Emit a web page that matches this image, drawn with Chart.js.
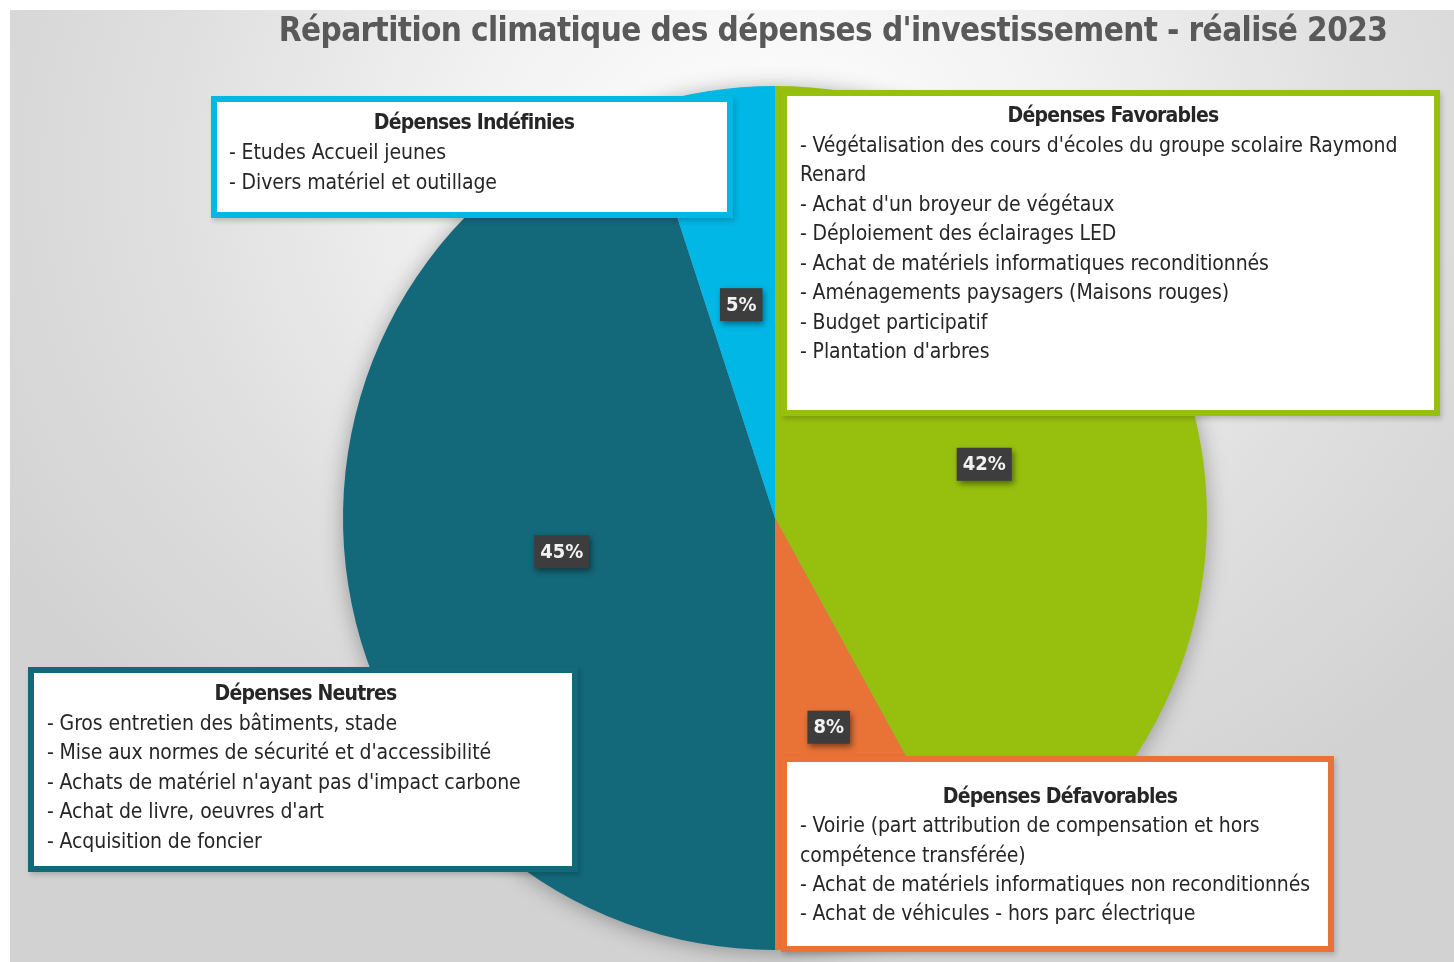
<!DOCTYPE html>
<html lang="fr">
<head>
<meta charset="utf-8">
<title>Répartition climatique des dépenses d'investissement - réalisé 2023</title>
<script src="https://cdn.jsdelivr.net/npm/chart.js"></script>
<style>
  html, body { margin: 0; padding: 0; background: #fff; }
  #page { position: relative; width: 1454px; height: 962px; overflow: hidden; }
  #bg {
    position: absolute; left: 10px; top: 10px; width: 1444px; height: 952px;
    background: radial-gradient(ellipse 900px 760px at 760px 160px, #ffffff 0%, #f1f1f1 35%, #dedede 70%, #d2d2d2 100%);
  }
  #chart { position: absolute; left: 0; top: 0; width: 1454px; height: 962px; }
  h1 {
    position: absolute; left: 240px; width: 1186px; top: 9px; margin: 0;
    text-align: center; font: bold 33px 'DejaVu Sans Condensed', sans-serif;
    letter-spacing: -0.6px; white-space: nowrap;
    color: #595959; line-height: 42px;
  }
  .box {
    position: absolute; box-sizing: border-box; background: #fff; border: 6px solid;
    box-shadow: 2px 3px 5px rgba(0,0,0,0.18);
    font: 21px 'DejaVu Sans Condensed', sans-serif; color: #262626;
    letter-spacing: -0.1px; white-space: nowrap;
  }
  .box .t { font-weight: bold; text-align: center; letter-spacing: -0.8px; }
</style>
</head>
<body>
<div id="page">
  <div id="bg"></div>
  <canvas id="chart" width="1454" height="962"></canvas>
  <h1 id="title"></h1>
</div>
<script>
// données
const categories = ['Dépenses Favorables', 'Dépenses Défavorables', 'Dépenses Neutres', 'Dépenses Indéfinies'];
const shares = [42, 8, 45, 5];
const shareLabels = ['42%', '8%', '45%', '5%'];
const chartTitle = "Répartition climatique des dépenses d'investissement - réalisé 2023";

const favorablesItems = [
  "- Végétalisation des cours d'écoles du groupe scolaire Raymond",
  "Renard",
  "- Achat d'un broyeur de végétaux",
  "- Déploiement des éclairages LED",
  "- Achat de matériels informatiques reconditionnés",
  "- Aménagements paysagers (Maisons rouges)",
  "- Budget participatif",
  "- Plantation d'arbres"
];
const defavorablesItems = [
  "- Voirie (part attribution de compensation et hors",
  "compétence transférée)",
  "- Achat de matériels informatiques non reconditionnés",
  "- Achat de véhicules - hors parc électrique"
];
const neutresItems = [
  "- Gros entretien des bâtiments, stade",
  "- Mise aux normes de sécurité et d'accessibilité",
  "- Achats de matériel n'ayant pas d'impact carbone",
  "- Achat de livre, oeuvres d'art",
  "- Acquisition de foncier"
];
const indefiniesItems = [
  "- Etudes Accueil jeunes",
  "- Divers matériel et outillage"
];

// couleurs
const sliceColors = ['#97c00e', '#e97336', '#13687a', '#00b7e6'];

// encadrés (position, taille)
const boxes = [
  { idx: 0, items: favorablesItems, left: 781, top: 90, width: 659, height: 326, padTop: 5, padLeft: 13, lineH: 29.5 },
  { idx: 1, items: defavorablesItems, left: 781, top: 756, width: 553, height: 196, padTop: 20, padLeft: 13, lineH: 29.3 },
  { idx: 2, items: neutresItems, left: 28, top: 667, width: 550, height: 205, padTop: 6, padLeft: 13, lineH: 29.6 },
  { idx: 3, items: indefiniesItems, left: 211, top: 96, width: 522, height: 122, padTop: 5, padLeft: 12, lineH: 30 }
];

document.getElementById('title').textContent = chartTitle;

const page = document.getElementById('page');
boxes.forEach(b => {
  const div = document.createElement('div');
  div.className = 'box';
  div.style.left = b.left + 'px';
  div.style.top = b.top + 'px';
  div.style.width = b.width + 'px';
  div.style.height = b.height + 'px';
  div.style.borderColor = sliceColors[b.idx];
  div.style.padding = b.padTop + 'px 8px 0 ' + b.padLeft + 'px';
  div.style.lineHeight = b.lineH + 'px';
  const t = document.createElement('div');
  t.className = 't';
  t.textContent = categories[b.idx];
  div.appendChild(t);
  b.items.forEach(line => {
    const l = document.createElement('div');
    l.textContent = line;
    div.appendChild(l);
  });
  page.appendChild(div);
});

// ombre sous le camembert
const pieShadow = {
  id: 'pieShadow',
  beforeDatasetsDraw(chart) {
    const arc = chart.getDatasetMeta(0).data[0];
    if (!arc) return;
    const ctx = chart.ctx;
    ctx.save();
    ctx.shadowColor = 'rgba(0,0,0,0.35)';
    ctx.shadowBlur = 22;
    ctx.shadowOffsetY = 2;
    ctx.fillStyle = '#999';
    ctx.beginPath();
    ctx.arc(arc.x, arc.y, arc.outerRadius - 1, 0, Math.PI * 2);
    ctx.fill();
    ctx.restore();
  }
};

// étiquettes de pourcentage
const shareTags = {
  id: 'shareTags',
  afterDatasetsDraw(chart) {
    const ctx = chart.ctx;
    const meta = chart.getDatasetMeta(0);
    ctx.save();
    ctx.font = "bold 20px 'DejaVu Sans Condensed', sans-serif";
    ctx.textAlign = 'center';
    ctx.textBaseline = 'middle';
    meta.data.forEach((arc, i) => {
      const p = arc.tooltipPosition();
      const text = shareLabels[i];
      const w = ctx.measureText(text).width + 12;
      const h = 33;
      ctx.shadowColor = 'rgba(0,0,0,0.45)';
      ctx.shadowBlur = 6;
      ctx.shadowOffsetX = 2;
      ctx.shadowOffsetY = 3;
      ctx.fillStyle = '#3d3d3d';
      ctx.fillRect(p.x - w / 2, p.y - h / 2, w, h);
      ctx.shadowColor = 'transparent';
      ctx.fillStyle = '#f2f2f2';
      ctx.fillText(text, p.x, p.y + 1);
    });
    ctx.restore();
  }
};

new Chart(document.getElementById('chart'), {
  type: 'pie',
  data: {
    labels: categories,
    datasets: [{
      data: shares,
      backgroundColor: sliceColors,
      borderWidth: 0,
      hoverOffset: 0
    }]
  },
  options: {
    responsive: false,
    animation: false,
    layout: { padding: { left: 96, right: 0, top: 86, bottom: 12 } },
    plugins: {
      legend: { display: false },
      tooltip: { enabled: false },
      title: { display: false }
    }
  },
  plugins: [pieShadow, shareTags]
});
</script>
</body>
</html>
